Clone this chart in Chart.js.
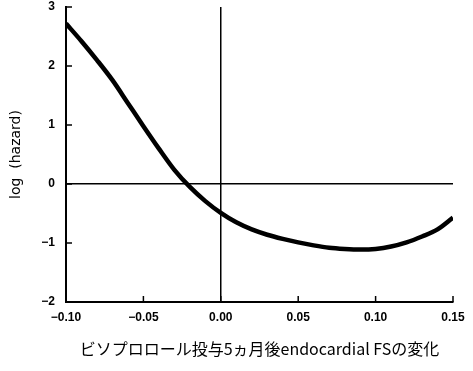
<!DOCTYPE html>
<html>
<head>
<meta charset="utf-8">
<script src="https://cdn.jsdelivr.net/npm/chart.js@4/dist/chart.umd.min.js"></script>
<style>
  html, body { margin: 0; padding: 0; background: #fff; }
  #wrap { width: 473px; height: 371px; }
</style>
</head>
<body>
<div id="wrap"><canvas id="chartCanvas" width="473" height="371"></canvas></div>
<script>
// change in endocardial FS after 5 months, and the fitted log hazard
const fsChange = [-0.10, -0.09, -0.08, -0.07, -0.06, -0.05, -0.04, -0.03, -0.02, -0.01,
  0.00, 0.01, 0.02, 0.03, 0.04, 0.05, 0.06, 0.07, 0.08, 0.09, 0.10, 0.11, 0.12, 0.13, 0.14, 0.15];
const logHazard = [2.72, 2.42, 2.10, 1.76, 1.37, 0.98, 0.60, 0.24, -0.05, -0.29,
  -0.49, -0.65, -0.77, -0.86, -0.93, -0.99, -1.04, -1.08, -1.10, -1.11, -1.10, -1.06, -0.99, -0.89, -0.77, -0.57];

const xTicks = [-0.10, -0.05, 0.00, 0.05, 0.10, 0.15];
const yTicks = [-2, -1, 0, 1, 2, 3];

const xTitle = "ビソプロロール投与5ヵ月後endocardial FSの変化";
const yTitle = "log  (hazard)";

const tickFont = { family: "'Liberation Sans', Arial, sans-serif", size: 12, weight: "bold" };
const minus = s => s.replace("-", "\u2212");

// short tick marks drawn inward from the axes
const inwardTicks = {
  id: "inwardTicks",
  afterDraw(chart) {
    const { ctx, scales: { x, y } } = chart;
    ctx.save();
    ctx.strokeStyle = "#000";
    ctx.lineWidth = 1.5;
    xTicks.forEach(v => {
      const px = x.getPixelForValue(v);
      ctx.beginPath();
      ctx.moveTo(px, y.bottom);
      ctx.lineTo(px, y.bottom - 6);
      ctx.stroke();
    });
    yTicks.forEach(v => {
      const py = y.getPixelForValue(v);
      ctx.beginPath();
      ctx.moveTo(x.left, py);
      ctx.lineTo(x.left + 6, py);
      ctx.stroke();
    });
    ctx.restore();
  }
};

const zeroOnly = c => (c.tick && c.tick.value === 0 ? "#000" : "rgba(0,0,0,0)");

new Chart(document.getElementById("chartCanvas"), {
  type: "scatter",
  data: {
    datasets: [{
      data: fsChange.map((v, i) => ({ x: v, y: logHazard[i] })),
      showLine: true,
      borderColor: "#000",
      borderWidth: 4.5,
      pointRadius: 0,
      cubicInterpolationMode: "monotone",
      fill: false
    }]
  },
  options: {
    responsive: false,
    animation: false,
    layout: { padding: { top: 0, right: 20, left: 0, bottom: 0 } },
    plugins: { legend: { display: false }, tooltip: { enabled: false } },
    scales: {
      x: {
        type: "linear",
        min: -0.10,
        max: 0.15,
        afterBuildTicks: s => { s.ticks = xTicks.map(v => ({ value: v })); },
        afterFit: s => { s.height = 69; },
        ticks: {
          color: "#000",
          font: tickFont,
          padding: 8,
          maxRotation: 0,
          callback: v => minus(v.toFixed(2))
        },
        grid: { color: zeroOnly, lineWidth: 1.5, drawTicks: false },
        border: { color: "#000", width: 2 },
        title: {
          display: true,
          text: xTitle,
          color: "#000",
          font: { family: "'Noto Sans CJK JP', sans-serif", size: 16 },
          padding: { top: 11, bottom: 12 }
        }
      },
      y: {
        min: -2,
        max: 3,
        afterBuildTicks: s => { s.ticks = yTicks.map(v => ({ value: v })); },
        afterFit: s => {
          s.width = 66;
          s.paddingTop = 7;
          s.paddingBottom = 0;
        },
        ticks: {
          color: "#000",
          font: tickFont,
          padding: 11,
          callback: v => minus(String(v))
        },
        grid: { color: zeroOnly, lineWidth: 1.5, drawTicks: false },
        border: { color: "#000", width: 2 },
        title: {
          display: true,
          text: yTitle,
          color: "#000",
          font: { family: "'DejaVu Sans', sans-serif", size: 14 },
          padding: { top: 8, bottom: 8 }
        }
      }
    }
  },
  plugins: [inwardTicks]
});
</script>
</body>
</html>
